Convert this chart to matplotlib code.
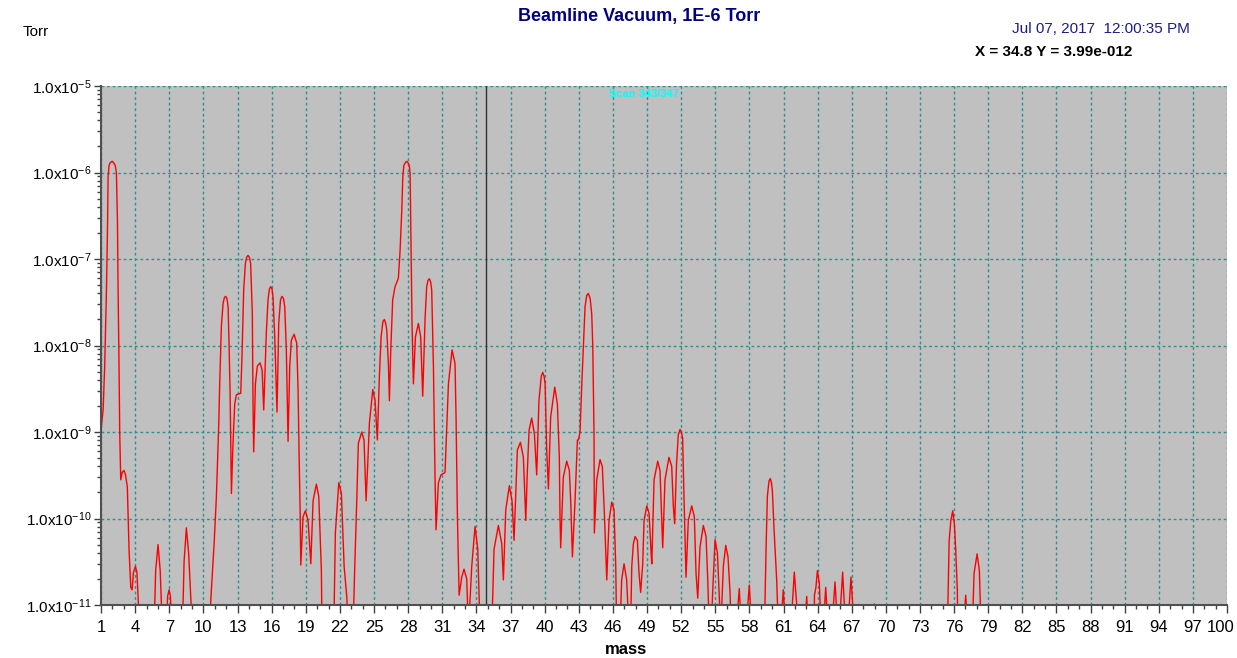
import numpy as np
import matplotlib
matplotlib.use("Agg")
import matplotlib.pyplot as plt
import matplotlib.transforms as mtransforms
from matplotlib.ticker import FixedLocator, LogLocator, NullFormatter

plt.rcParams['font.family'] = ['Liberation Sans', 'DejaVu Sans']
plt.rcParams['mathtext.default'] = 'regular'

# spectrum trace (mass in amu, pressure in Torr); 5e-12 = below the axis floor
mass = [1.00, 1.18, 1.32, 1.47, 1.56, 1.62, 1.70, 1.80, 1.98, 2.10, 2.25, 2.35, 2.44, 2.50, 2.58, 2.64,
        2.73, 2.85, 3.02, 3.15, 3.31, 3.46, 3.61, 3.73, 3.85, 4.02, 4.15, 4.40,
        5.66, 5.80, 6.01, 6.20, 6.39, 6.74, 6.85, 6.98, 7.10, 7.24, 8.15, 8.30, 8.50, 8.70, 9.03,
        10.50, 10.70, 10.94, 11.14, 11.35, 11.43, 11.58, 11.73, 11.85, 11.96, 12.07, 12.17, 12.25, 12.34, 12.46,
        12.60, 12.75, 12.90, 13.28, 13.39, 13.54, 13.69, 13.80, 13.92, 14.04, 14.15, 14.30, 14.36, 14.42,
        14.57, 14.74, 14.98, 15.16, 15.30, 15.53, 15.68, 15.80, 15.92, 16.03, 16.12, 16.27, 16.47,
        16.62, 16.78, 16.91, 17.04, 17.15, 17.29, 17.44, 17.59, 17.73, 17.97, 18.20, 18.32, 18.41, 18.50, 18.56,
        18.76, 18.96, 19.20, 19.44, 19.64, 19.93, 20.14, 20.37, 20.43,
        21.46, 21.60, 21.90, 22.13, 22.37, 22.60, 22.75, 23.15, 23.33, 23.48, 23.62, 23.92, 24.12,
        24.30, 24.45, 24.59, 24.89, 25.09, 25.29, 25.47, 25.62, 25.78, 25.91, 26.03, 26.12, 26.26, 26.35,
        26.47, 26.64, 26.85, 27.14, 27.29, 27.44, 27.53, 27.62, 27.75, 27.88, 27.98, 28.10, 28.17, 28.26,
        28.34, 28.46, 28.64, 28.90, 29.10, 29.28, 29.49, 29.63, 29.75, 29.87, 29.98, 30.07, 30.22, 30.37, 30.45,
        30.66, 30.89, 31.24, 31.39, 31.54, 31.86, 32.12, 32.21, 32.33, 32.48, 32.71, 32.91, 33.15,
        33.30, 33.59, 33.88, 34.12, 34.32,
        35.35, 35.55, 35.93, 36.23, 36.37, 36.58, 36.90, 37.13, 37.31, 37.49, 37.60, 37.87, 38.13,
        38.34, 38.48, 38.63, 38.86, 39.10, 39.30, 39.50, 39.70, 39.83, 39.95, 40.04, 40.18, 40.33, 40.53, 40.89,
        41.12, 41.29, 41.35, 41.41, 41.64, 41.94, 42.17, 42.29, 42.44, 42.67, 42.88, 42.97, 43.11,
        43.25, 43.40, 43.55, 43.70, 43.84, 44.00, 44.14, 44.23, 44.34, 44.37,
        44.58, 44.87, 45.07, 45.25, 45.46, 45.66, 45.90, 46.10, 46.25, 46.33,
        46.62, 46.77, 46.98, 47.21, 47.42, 47.55, 47.66, 47.80, 47.95, 48.15, 48.30, 48.44,
        48.62, 48.74, 48.98, 49.18, 49.36, 49.42, 49.62, 49.94, 50.14, 50.29, 50.38,
        50.58, 50.93, 51.17, 51.31, 51.43, 51.60, 51.75, 51.90, 52.02, 52.13, 52.25, 52.43,
        52.63, 52.93, 53.16, 53.31, 53.46, 53.66, 53.95, 54.19, 54.34, 54.48,
        54.65, 54.77, 54.98, 55.19, 55.34, 55.48, 55.71, 55.92, 56.12, 56.30, 56.40,
        56.82, 57.11, 57.30, 57.69, 57.99, 58.23,
        59.32, 59.47, 59.58, 59.72, 59.84, 59.94, 60.02, 60.17, 60.40, 60.55, 60.74, 60.98, 61.20,
        61.63, 61.95, 62.33, 62.83, 63.04, 63.20, 63.69, 63.72, 63.85, 63.98, 64.15, 64.30,
        64.48, 64.71, 64.92, 65.23, 65.53, 65.78, 65.88, 66.20, 66.47, 66.64, 66.93, 67.23,
        68.90, 68.98, 69.06,
        75.41, 75.56, 75.71, 75.88, 76.02, 76.14, 76.28, 76.33, 76.80, 77.02, 77.20,
        77.60, 77.75, 78.02, 78.22, 78.37, 100.0]
torr = [1.05e-9, 1.8e-9, 5.8e-9, 4.1e-8, 2.0e-7, 8.9e-7, 1.2e-6, 1.3e-6, 1.35e-6, 1.3e-6, 1.2e-6, 9.8e-7, 2.8e-7, 4.1e-8, 5.8e-9, 9.8e-10,
        2.8e-10, 3.4e-10, 3.6e-10, 3.2e-10, 2.3e-10, 4.4e-11, 1.6e-11, 1.5e-11, 2.4e-11, 2.8e-11, 2.4e-11, 5e-12,
        5e-12, 2.5e-11, 5.0e-11, 2.5e-11, 5e-12, 5e-12, 1.26e-11, 1.5e-11, 1.26e-11, 5e-12, 5e-12, 3.2e-11, 7.8e-11, 4.0e-11, 5e-12,
        5e-12, 1.5e-11, 5.1e-11, 1.8e-10, 1.26e-9, 3.6e-9, 1.7e-8, 3.1e-8, 3.6e-8, 3.7e-8, 3.5e-8, 2.8e-8, 1.07e-8, 3.1e-9, 1.95e-10,
        7.4e-10, 2.1e-9, 2.7e-9, 2.8e-9, 7.4e-9, 4.4e-8, 8.9e-8, 1.05e-7, 1.1e-7, 1.05e-7, 8.9e-8, 2.3e-8, 2.1e-9, 5.9e-10,
        3.6e-9, 5.8e-9, 6.3e-9, 5.2e-9, 1.8e-9, 1.4e-8, 3.4e-8, 4.5e-8, 4.8e-8, 4.5e-8, 3.6e-8, 1.26e-8, 1.7e-9,
        1.8e-8, 3.4e-8, 3.7e-8, 3.5e-8, 2.8e-8, 8.9e-9, 7.8e-10, 5.8e-9, 1.15e-8, 1.35e-8, 1.07e-8, 3.1e-9, 5.6e-10, 1.26e-10, 2.9e-11,
        1.05e-10, 1.23e-10, 9.5e-11, 3.0e-11, 1.6e-10, 2.5e-10, 1.8e-10, 2.5e-11, 5e-12,
        5e-12, 6.8e-11, 2.6e-10, 1.95e-10, 2.8e-11, 1.26e-11, 5e-12, 5e-12, 3.6e-11, 1.6e-10, 7.4e-10, 1.0e-9, 8.1e-10,
        1.6e-10, 4.4e-10, 1.26e-9, 3.1e-9, 2.3e-9, 8.1e-10, 4.4e-9, 1.26e-8, 1.9e-8, 2.0e-8, 1.8e-8, 1.5e-8, 6.2e-9, 2.3e-9,
        8.9e-9, 3.4e-8, 4.8e-8, 6.0e-8, 1.26e-7, 3.7e-7, 8.9e-7, 1.2e-6, 1.3e-6, 1.35e-6, 1.3e-6, 1.2e-6, 9.8e-7, 1.26e-7,
        1.8e-8, 3.6e-9, 1.26e-8, 1.8e-8, 1.26e-8, 2.6e-9, 2.1e-8, 4.8e-8, 5.7e-8, 5.9e-8, 5.4e-8, 4.4e-8, 5.8e-9, 2.6e-10, 7.4e-11,
        2.6e-10, 3.2e-10, 3.4e-10, 1.15e-9, 3.6e-9, 8.9e-9, 6.2e-9, 1.5e-9, 1.05e-10, 1.3e-11, 2.1e-11, 2.6e-11, 2.0e-11,
        5e-12, 2.8e-11, 8.1e-11, 4.4e-11, 5e-12,
        5e-12, 4.4e-11, 8.3e-11, 5.1e-11, 1.95e-11, 1.26e-10, 2.4e-10, 1.6e-10, 5.6e-11, 2.6e-10, 6.2e-10, 7.6e-10, 5.1e-10,
        9.5e-11, 3.6e-10, 1.05e-9, 1.45e-9, 9.5e-10, 3.2e-10, 2.3e-9, 4.4e-9, 4.9e-9, 4.4e-9, 3.6e-9, 6.2e-10, 2.2e-10, 1.5e-9, 3.3e-9,
        2.1e-9, 5.1e-10, 1.05e-10, 4.6e-11, 3.0e-10, 4.6e-10, 3.6e-10, 1.6e-10, 3.6e-11, 1.6e-10, 8.1e-10, 8.1e-10, 1.0e-9,
        3.2e-9, 9.8e-9, 2.8e-8, 3.8e-8, 4.0e-8, 3.5e-8, 2.3e-8, 9.8e-9, 9.5e-10, 6.8e-11,
        2.8e-10, 4.8e-10, 4.0e-10, 1.15e-10, 1.95e-11, 9.5e-11, 1.55e-10, 1.26e-10, 2.8e-11, 5e-12,
        5e-12, 1.95e-11, 3.0e-11, 1.95e-11, 5e-12, 5e-12, 2.8e-11, 5.1e-11, 6.2e-11, 5.6e-11, 2.3e-11, 1.4e-11,
        3.0e-11, 9.5e-11, 1.4e-10, 1.15e-10, 4.0e-11, 3.0e-11, 2.8e-10, 4.6e-10, 3.6e-10, 9.5e-11, 4.6e-11,
        2.8e-10, 5.1e-10, 4.0e-10, 1.4e-10, 8.7e-11, 4.4e-10, 9.3e-10, 1.07e-9, 1.0e-9, 8.5e-10, 1.8e-10, 2.1e-11,
        9.5e-11, 1.4e-10, 1.05e-10, 2.3e-11, 1.2e-11, 4.7e-11, 8.3e-11, 6.2e-11, 1.95e-11, 5e-12,
        5e-12, 1.4e-11, 5.7e-11, 4.0e-11, 1.4e-11, 5e-12, 2.8e-11, 4.9e-11, 3.6e-11, 1.4e-11, 5e-12,
        5e-12, 1.55e-11, 5e-12, 5e-12, 1.7e-11, 5e-12,
        5e-12, 4.7e-11, 1.8e-10, 2.7e-10, 2.9e-10, 2.6e-10, 2.1e-10, 7.4e-11, 1.95e-11, 5e-12, 5e-12, 1.5e-11, 5e-12,
        5e-12, 2.4e-11, 5e-12, 5e-12, 1.26e-11, 5e-12, 5e-12, 1.3e-11, 1.6e-11, 2.5e-11, 1.8e-11, 5e-12,
        5e-12, 1.6e-11, 5e-12, 5e-12, 1.85e-11, 5e-12, 5e-12, 2.4e-11, 5e-12, 5e-12, 2.1e-11, 5e-12,
        5e-12, 1.03e-11, 5e-12,
        5e-12, 5.4e-11, 9.5e-11, 1.23e-10, 8.7e-11, 4.4e-11, 1.5e-11, 5e-12, 5e-12, 1.3e-11, 5e-12,
        5e-12, 2.3e-11, 3.9e-11, 2.5e-11, 5e-12, 5e-12]

cursor_mass = 34.8
x_ticks = list(range(1, 101, 3))
y_decades = [1e-11, 1e-10, 1e-9, 1e-8, 1e-7, 1e-6, 1e-5]
y_labels = ['1.0x10$^{%d}$' % int(round(np.log10(v))) for v in y_decades]

fig = plt.figure(figsize=(12.37, 6.58), dpi=100)
ax = fig.add_axes([0.0817, 0.0805, 0.9103, 0.7888])
ax.set_facecolor('#c0c0c0')

ax.plot(mass, torr, color='red', lw=1)
ax.axvline(cursor_mass, color='#303030', lw=1)

ax.set_yscale('log')
ax.set_xlim(1, 100)
ax.set_ylim(1e-11, 1e-5)

ax.xaxis.set_major_locator(FixedLocator(x_ticks))
ax.xaxis.set_minor_locator(FixedLocator(list(range(1, 101))))
ax.set_xticklabels([str(t) for t in x_ticks])
ax.yaxis.set_major_locator(FixedLocator(y_decades))
ax.yaxis.set_minor_locator(LogLocator(base=10, subs=np.arange(2, 10)))
ax.yaxis.set_minor_formatter(NullFormatter())
ax.set_yticklabels(y_labels)

ax.grid(True, which='major', color='#2e8f8f', linestyle=(0, (2, 2)), lw=1)
ax.tick_params(axis='x', which='major', length=6, width=1, color='#404040', labelsize=12, pad=5)
ax.tick_params(axis='x', which='minor', length=3, width=1, color='#404040')
ax.tick_params(axis='y', which='major', length=5, width=1, color='#404040', labelsize=11, pad=2)
ax.tick_params(axis='y', which='minor', length=3, width=1, color='#404040')
for s in ['top', 'right']:
    ax.spines[s].set_visible(False)
for s in ['left', 'bottom']:
    ax.spines[s].set_color('#505050')
    ax.spines[s].set_linewidth(1.5)

# last label sits flush with the right edge, nudge it inside
last = ax.get_xticklabels()[-1]
last.set_transform(last.get_transform() + mtransforms.ScaledTranslation(-6 / 100, 0, fig.dpi_scale_trans))

fig.text(0.506, 0.013, 'mass', ha='center', va='center', fontsize=12, fontweight='bold')
fig.text(0.517, 0.975, 'Beamline Vacuum, 1E-6 Torr', ha='center', va='center',
         fontsize=13, fontweight='bold', color='#000080')
fig.text(0.018, 0.952, 'Torr', ha='left', va='center', fontsize=11)
fig.text(0.962, 0.956, 'Jul 07, 2017  12:00:35 PM', ha='right', va='center',
         fontsize=11, color='#1c1c8c')
fig.text(0.788, 0.921, 'X = 34.8 Y = 3.99e-012', ha='left', va='center',
         fontsize=11, fontweight='bold', color='black')
ax.text(0.482, 0.985, 'Scan 343/347', transform=ax.transAxes, ha='center', va='center',
        fontsize=8, fontweight='bold', color='#00ffff')

fig.savefig('out.png', dpi=100)
